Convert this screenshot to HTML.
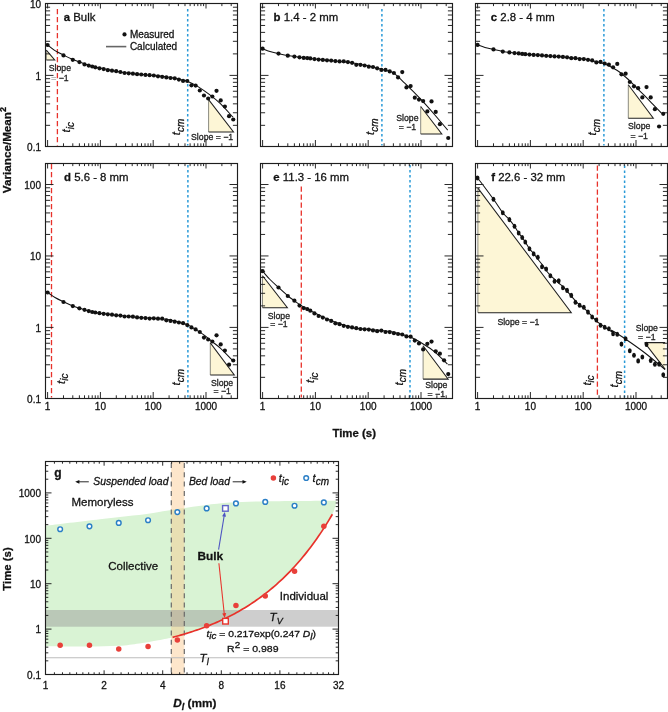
<!DOCTYPE html><html><head><meta charset="utf-8"><style>html,body{margin:0;padding:0;background:#fff;}svg{display:block;}text{font-family:"Liberation Sans",sans-serif;stroke:#111;stroke-width:0.28px;paint-order:stroke;}svg{will-change:transform;}</style></head><body>
<svg width="668" height="712" viewBox="0 0 668 712">
<rect width="668" height="712" fill="#fff"/>
<path d="M46.3 50.1L46.3 59.9L54.7 59.9Z" fill="#fdf6d6" stroke="none"/>
<path d="M46.3 50.1V59.9" stroke="#8a8a80" stroke-width="1" fill="none"/>
<path d="M46.3 50.1L54.7 59.9H46.3" stroke="#222" stroke-width="1.05" fill="none"/>
<path d="M208.6 99.6L208.6 132L233.5 132Z" fill="#fdf6d6" stroke="none"/>
<path d="M208.6 99.6V132" stroke="#8a8a80" stroke-width="1" fill="none"/>
<path d="M208.6 99.6L233.5 132H208.6" stroke="#222" stroke-width="1.05" fill="none"/>
<path d="M57.4 9V145.5" stroke="#e8322b" stroke-width="1.3" stroke-dasharray="5.2 2.8" fill="none"/>
<path d="M187.7 9V145.5" stroke="#2a9ad8" stroke-width="1.5" stroke-dasharray="2.5 2.5" fill="none"/>
<path d="M45.50 44.00C45.85 44.17 46.02 43.90 47.60 45.00C49.18 46.10 52.35 48.92 55.00 50.60C57.65 52.28 60.53 53.62 63.50 55.10C66.47 56.58 70.15 58.35 72.80 59.50C75.45 60.65 76.75 61.03 79.40 62.00C82.05 62.97 85.27 64.30 88.70 65.30C92.13 66.30 95.45 67.02 100.00 68.00C104.55 68.98 111.00 70.32 116.00 71.20C121.00 72.08 125.17 72.72 130.00 73.30C134.83 73.88 140.00 74.25 145.00 74.70C150.00 75.15 155.50 75.48 160.00 76.00C164.50 76.52 168.67 77.20 172.00 77.80C175.33 78.40 177.47 79.03 180.00 79.60C182.53 80.17 184.20 80.03 187.20 81.20C190.20 82.37 194.27 84.35 198.00 86.60C201.73 88.85 205.87 91.85 209.60 94.70C213.33 97.55 216.50 99.95 220.40 103.70C224.30 107.45 230.90 114.95 233.00 117.20" fill="none" stroke="#111" stroke-width="1.05" stroke-linejoin="round"/>
<g fill="#111"><circle cx="47.6" cy="45" r="2.1"/><circle cx="63.49" cy="55.4" r="2.1"/><circle cx="72.79" cy="59.8" r="2.1"/><circle cx="79.39" cy="62.1" r="2.1"/><circle cx="84.51" cy="64.4" r="2.1"/><circle cx="88.69" cy="65.6" r="2.1"/><circle cx="92.22" cy="66.5" r="2.1"/><circle cx="95.28" cy="67.3" r="2.1"/><circle cx="99.46" cy="68.3" r="2.1"/><circle cx="103.64" cy="69.1" r="2.1"/><circle cx="107.83" cy="70.2" r="2.1"/><circle cx="112.01" cy="70.7" r="2.1"/><circle cx="116.19" cy="71.2" r="2.1"/><circle cx="120.37" cy="72" r="2.1"/><circle cx="124.55" cy="73" r="2.1"/><circle cx="128.73" cy="73.3" r="2.1"/><circle cx="132.91" cy="73.7" r="2.1"/><circle cx="137.09" cy="74.2" r="2.1"/><circle cx="141.27" cy="74.5" r="2.1"/><circle cx="145.45" cy="74.9" r="2.1"/><circle cx="149.63" cy="75.2" r="2.1"/><circle cx="153.81" cy="75.5" r="2.1"/><circle cx="157.99" cy="76.3" r="2.1"/><circle cx="162.18" cy="76.8" r="2.1"/><circle cx="166.36" cy="77.4" r="2.1"/><circle cx="170.54" cy="78" r="2.1"/><circle cx="174.72" cy="78.3" r="2.1"/><circle cx="178.9" cy="79.6" r="2.1"/><circle cx="183.08" cy="80.9" r="2.1"/><circle cx="187.26" cy="81" r="2.1"/><circle cx="191.44" cy="85.3" r="2.1"/><circle cx="195.62" cy="85.6" r="2.1"/><circle cx="199.8" cy="90.5" r="2.1"/><circle cx="203.98" cy="95.5" r="2.1"/><circle cx="208.16" cy="98.5" r="2.1"/><circle cx="212.34" cy="96.5" r="2.1"/><circle cx="216.53" cy="90.8" r="2.1"/><circle cx="220.71" cy="100.4" r="2.1"/><circle cx="224.89" cy="106.5" r="2.1"/><circle cx="229.07" cy="116.2" r="2.1"/><circle cx="233.25" cy="119.5" r="2.1"/></g>
<rect x="45.5" y="3.5" width="192" height="143" fill="none" stroke="#1e1e1e" stroke-width="1.15"/>
<path d="M47.6 146.5v-6.5M47.6 3.5v5M63.49 146.5v-3.2M63.49 3.5v2.6M72.79 146.5v-3.2M72.79 3.5v2.6M79.39 146.5v-3.2M79.39 3.5v2.6M84.51 146.5v-3.2M84.51 3.5v2.6M88.69 146.5v-3.2M88.69 3.5v2.6M92.22 146.5v-3.2M92.22 3.5v2.6M95.28 146.5v-3.2M95.28 3.5v2.6M97.98 146.5v-3.2M97.98 3.5v2.6M100.4 146.5v-6.5M100.4 3.5v5M116.29 146.5v-3.2M116.29 3.5v2.6M125.59 146.5v-3.2M125.59 3.5v2.6M132.19 146.5v-3.2M132.19 3.5v2.6M137.31 146.5v-3.2M137.31 3.5v2.6M141.49 146.5v-3.2M141.49 3.5v2.6M145.02 146.5v-3.2M145.02 3.5v2.6M148.08 146.5v-3.2M148.08 3.5v2.6M150.78 146.5v-3.2M150.78 3.5v2.6M153.2 146.5v-6.5M153.2 3.5v5M169.09 146.5v-3.2M169.09 3.5v2.6M178.39 146.5v-3.2M178.39 3.5v2.6M184.99 146.5v-3.2M184.99 3.5v2.6M190.11 146.5v-3.2M190.11 3.5v2.6M194.29 146.5v-3.2M194.29 3.5v2.6M197.82 146.5v-3.2M197.82 3.5v2.6M200.88 146.5v-3.2M200.88 3.5v2.6M203.58 146.5v-3.2M203.58 3.5v2.6M206 146.5v-6.5M206 3.5v5M221.89 146.5v-3.2M221.89 3.5v2.6M231.19 146.5v-3.2M231.19 3.5v2.6M45.5 125.34h4.6M237.5 125.34h-4.6M45.5 112.76h4.6M237.5 112.76h-4.6M45.5 103.83h4.6M237.5 103.83h-4.6M45.5 96.91h4.6M237.5 96.91h-4.6M45.5 91.25h4.6M237.5 91.25h-4.6M45.5 86.47h4.6M237.5 86.47h-4.6M45.5 82.32h4.6M237.5 82.32h-4.6M45.5 78.67h4.6M237.5 78.67h-4.6M45.5 75.4h8M237.5 75.4h-8M45.5 53.89h4.6M237.5 53.89h-4.6M45.5 41.31h4.6M237.5 41.31h-4.6M45.5 32.38h4.6M237.5 32.38h-4.6M45.5 25.46h4.6M237.5 25.46h-4.6M45.5 19.8h4.6M237.5 19.8h-4.6M45.5 15.02h4.6M237.5 15.02h-4.6M45.5 10.87h4.6M237.5 10.87h-4.6M45.5 7.22h4.6M237.5 7.22h-4.6" stroke="#1e1e1e" stroke-width="0.95" fill="none"/>
<text x="63.7" y="20.9" font-size="11.4" fill="#111"><tspan font-weight="bold">a</tspan> Bulk</text>
<text x="59.9" y="71.4" font-size="8.7" fill="#222" text-anchor="middle">Slope</text>
<text x="59.9" y="80.6" font-size="8.7" fill="#222" text-anchor="middle"><tspan fill="#aaa" stroke="#aaa">=</tspan> −1</text>
<text x="212.1" y="140.1" font-size="8.7" fill="#222" text-anchor="middle">Slope = −1</text>
<text transform="translate(70.2 132.4) rotate(-90)" font-size="11.5" font-style="italic" fill="#111">t<tspan font-size="10" dy="3.4">ic</tspan></text>
<text transform="translate(180.2 135.2) rotate(-90)" font-size="11.5" font-style="italic" fill="#111">t<tspan font-size="10" dy="3.4">cm</tspan></text>
<path d="M420.7 106.5L420.7 134L441.8 134Z" fill="#fdf6d6" stroke="none"/>
<path d="M420.7 106.5V134" stroke="#8a8a80" stroke-width="1" fill="none"/>
<path d="M420.7 106.5L441.8 134H420.7" stroke="#222" stroke-width="1.05" fill="none"/>
<path d="M381.9 9V145.5" stroke="#2a9ad8" stroke-width="1.5" stroke-dasharray="2.5 2.5" fill="none"/>
<path d="M260.50 47.80C260.85 47.95 261.02 48.08 262.60 48.70C264.18 49.32 267.35 50.68 270.00 51.50C272.65 52.32 275.53 52.92 278.50 53.60C281.47 54.28 284.30 54.98 287.80 55.60C291.30 56.22 294.97 56.72 299.50 57.30C304.03 57.88 309.08 58.48 315.00 59.10C320.92 59.72 328.83 60.38 335.00 61.00C341.17 61.62 347.00 62.08 352.00 62.80C357.00 63.52 360.10 64.22 365.00 65.30C369.90 66.38 376.73 68.08 381.40 69.30C386.07 70.52 389.07 70.25 393.00 72.60C396.93 74.95 400.38 78.97 405.00 83.40C409.62 87.83 415.87 94.10 420.70 99.20C425.53 104.30 429.50 108.85 434.00 114.00C438.50 119.15 445.42 127.42 447.70 130.10" fill="none" stroke="#111" stroke-width="1.05" stroke-linejoin="round"/>
<g fill="#111"><circle cx="262.6" cy="48.7" r="2.1"/><circle cx="278.49" cy="53.6" r="2.1"/><circle cx="287.79" cy="55.7" r="2.1"/><circle cx="294.39" cy="56.6" r="2.1"/><circle cx="299.51" cy="57.3" r="2.1"/><circle cx="303.69" cy="57.9" r="2.1"/><circle cx="307.22" cy="58.1" r="2.1"/><circle cx="310.28" cy="58.4" r="2.1"/><circle cx="314.46" cy="59.1" r="2.1"/><circle cx="318.64" cy="59.6" r="2.1"/><circle cx="322.83" cy="59.9" r="2.1"/><circle cx="327.01" cy="60.3" r="2.1"/><circle cx="331.19" cy="60.6" r="2.1"/><circle cx="335.37" cy="61.1" r="2.1"/><circle cx="339.55" cy="61.4" r="2.1"/><circle cx="343.73" cy="61.3" r="2.1"/><circle cx="347.91" cy="62.1" r="2.1"/><circle cx="352.09" cy="62.85" r="2.1"/><circle cx="356.27" cy="64.8" r="2.1"/><circle cx="360.45" cy="64.8" r="2.1"/><circle cx="364.63" cy="65.5" r="2.1"/><circle cx="368.81" cy="66.7" r="2.1"/><circle cx="372.99" cy="67" r="2.1"/><circle cx="377.18" cy="68.3" r="2.1"/><circle cx="381.36" cy="69.9" r="2.1"/><circle cx="385.54" cy="69.9" r="2.1"/><circle cx="389.72" cy="71.4" r="2.1"/><circle cx="393.9" cy="73" r="2.1"/><circle cx="398.08" cy="77.4" r="2.1"/><circle cx="402.26" cy="72.1" r="2.1"/><circle cx="406.44" cy="87.4" r="2.1"/><circle cx="410.62" cy="86.1" r="2.1"/><circle cx="414.8" cy="97.7" r="2.1"/><circle cx="418.98" cy="99.6" r="2.1"/><circle cx="423.16" cy="101.1" r="2.1"/><circle cx="427.34" cy="111.4" r="2.1"/><circle cx="431.53" cy="101.4" r="2.1"/><circle cx="435.71" cy="111.9" r="2.1"/><circle cx="439.89" cy="124.2" r="2.1"/><circle cx="448.25" cy="138" r="2.1"/></g>
<rect x="260.5" y="3.5" width="192" height="143" fill="none" stroke="#1e1e1e" stroke-width="1.15"/>
<path d="M262.6 146.5v-6.5M262.6 3.5v5M278.49 146.5v-3.2M278.49 3.5v2.6M287.79 146.5v-3.2M287.79 3.5v2.6M294.39 146.5v-3.2M294.39 3.5v2.6M299.51 146.5v-3.2M299.51 3.5v2.6M303.69 146.5v-3.2M303.69 3.5v2.6M307.22 146.5v-3.2M307.22 3.5v2.6M310.28 146.5v-3.2M310.28 3.5v2.6M312.98 146.5v-3.2M312.98 3.5v2.6M315.4 146.5v-6.5M315.4 3.5v5M331.29 146.5v-3.2M331.29 3.5v2.6M340.59 146.5v-3.2M340.59 3.5v2.6M347.19 146.5v-3.2M347.19 3.5v2.6M352.31 146.5v-3.2M352.31 3.5v2.6M356.49 146.5v-3.2M356.49 3.5v2.6M360.02 146.5v-3.2M360.02 3.5v2.6M363.08 146.5v-3.2M363.08 3.5v2.6M365.78 146.5v-3.2M365.78 3.5v2.6M368.2 146.5v-6.5M368.2 3.5v5M384.09 146.5v-3.2M384.09 3.5v2.6M393.39 146.5v-3.2M393.39 3.5v2.6M399.99 146.5v-3.2M399.99 3.5v2.6M405.11 146.5v-3.2M405.11 3.5v2.6M409.29 146.5v-3.2M409.29 3.5v2.6M412.82 146.5v-3.2M412.82 3.5v2.6M415.88 146.5v-3.2M415.88 3.5v2.6M418.58 146.5v-3.2M418.58 3.5v2.6M421 146.5v-6.5M421 3.5v5M436.89 146.5v-3.2M436.89 3.5v2.6M446.19 146.5v-3.2M446.19 3.5v2.6M260.5 125.34h4.6M452.5 125.34h-4.6M260.5 112.76h4.6M452.5 112.76h-4.6M260.5 103.83h4.6M452.5 103.83h-4.6M260.5 96.91h4.6M452.5 96.91h-4.6M260.5 91.25h4.6M452.5 91.25h-4.6M260.5 86.47h4.6M452.5 86.47h-4.6M260.5 82.32h4.6M452.5 82.32h-4.6M260.5 78.67h4.6M452.5 78.67h-4.6M260.5 75.4h8M452.5 75.4h-8M260.5 53.89h4.6M452.5 53.89h-4.6M260.5 41.31h4.6M452.5 41.31h-4.6M260.5 32.38h4.6M452.5 32.38h-4.6M260.5 25.46h4.6M452.5 25.46h-4.6M260.5 19.8h4.6M452.5 19.8h-4.6M260.5 15.02h4.6M452.5 15.02h-4.6M260.5 10.87h4.6M452.5 10.87h-4.6M260.5 7.22h4.6M452.5 7.22h-4.6" stroke="#1e1e1e" stroke-width="0.95" fill="none"/>
<text x="273.6" y="20.9" font-size="11.4" fill="#111"><tspan font-weight="bold">b</tspan> 1.4 - 2 mm</text>
<text x="407.4" y="120.9" font-size="8.7" fill="#222" text-anchor="middle">Slope</text>
<text x="407.4" y="130" font-size="8.7" fill="#222" text-anchor="middle">= −1</text>
<text transform="translate(374.4 135) rotate(-90)" font-size="11.5" font-style="italic" fill="#111">t<tspan font-size="10" dy="3.4">cm</tspan></text>
<path d="M628.3 84.8L628.3 118.3L653.3 118.3Z" fill="#fdf6d6" stroke="none"/>
<path d="M628.3 84.8V118.3" stroke="#8a8a80" stroke-width="1" fill="none"/>
<path d="M628.3 84.8L653.3 118.3H628.3" stroke="#222" stroke-width="1.05" fill="none"/>
<path d="M603.9 9V145.5" stroke="#2a9ad8" stroke-width="1.5" stroke-dasharray="2.5 2.5" fill="none"/>
<path d="M475.50 44.00C475.85 44.15 476.02 44.32 477.60 44.90C479.18 45.48 482.35 46.75 485.00 47.50C487.65 48.25 490.53 48.73 493.50 49.40C496.47 50.07 499.30 50.90 502.80 51.50C506.30 52.10 509.97 52.48 514.50 53.00C519.03 53.52 524.08 54.08 530.00 54.60C535.92 55.12 543.83 55.65 550.00 56.10C556.17 56.55 561.50 56.82 567.00 57.30C572.50 57.78 578.17 58.28 583.00 59.00C587.83 59.72 592.45 60.82 596.00 61.60C599.55 62.38 600.82 62.27 604.30 63.70C607.78 65.13 612.98 67.65 616.90 70.20C620.82 72.75 624.17 75.72 627.80 79.00C631.43 82.28 635.07 86.27 638.70 89.90C642.33 93.53 645.77 96.88 649.60 100.80C653.43 104.72 659.68 111.30 661.70 113.40" fill="none" stroke="#111" stroke-width="1.05" stroke-linejoin="round"/>
<g fill="#111"><circle cx="477.6" cy="44.9" r="2.1"/><circle cx="493.49" cy="49.4" r="2.1"/><circle cx="502.79" cy="51.6" r="2.1"/><circle cx="509.39" cy="52.4" r="2.1"/><circle cx="514.51" cy="53.1" r="2.1"/><circle cx="518.69" cy="53.4" r="2.1"/><circle cx="522.22" cy="53.9" r="2.1"/><circle cx="525.28" cy="54.2" r="2.1"/><circle cx="529.46" cy="54.6" r="2.1"/><circle cx="533.64" cy="54.9" r="2.1"/><circle cx="537.83" cy="55.1" r="2.1"/><circle cx="542.01" cy="55.4" r="2.1"/><circle cx="546.19" cy="55.8" r="2.1"/><circle cx="550.37" cy="56.1" r="2.1"/><circle cx="554.55" cy="56.4" r="2.1"/><circle cx="558.73" cy="56.6" r="2.1"/><circle cx="562.91" cy="56.9" r="2.1"/><circle cx="567.09" cy="57.3" r="2.1"/><circle cx="571.27" cy="58.2" r="2.1"/><circle cx="575.45" cy="58.2" r="2.1"/><circle cx="579.63" cy="59.1" r="2.1"/><circle cx="583.81" cy="59.1" r="2.1"/><circle cx="587.99" cy="59.8" r="2.1"/><circle cx="592.18" cy="60.4" r="2.1"/><circle cx="596.36" cy="62.4" r="2.1"/><circle cx="600.54" cy="61.9" r="2.1"/><circle cx="604.72" cy="63.5" r="2.1"/><circle cx="608.9" cy="64.7" r="2.1"/><circle cx="613.08" cy="67.3" r="2.1"/><circle cx="617.26" cy="63.9" r="2.1"/><circle cx="621.44" cy="74.3" r="2.1"/><circle cx="625.62" cy="73.7" r="2.1"/><circle cx="629.8" cy="82" r="2.1"/><circle cx="633.98" cy="86.3" r="2.1"/><circle cx="638.16" cy="88.2" r="2.1"/><circle cx="642.34" cy="97.4" r="2.1"/><circle cx="646.53" cy="87.1" r="2.1"/><circle cx="650.71" cy="97.4" r="2.1"/><circle cx="654.89" cy="109.2" r="2.1"/><circle cx="659.07" cy="126.5" r="2.1"/><circle cx="663.25" cy="113.8" r="2.1"/></g>
<rect x="475.5" y="3.5" width="192" height="143" fill="none" stroke="#1e1e1e" stroke-width="1.15"/>
<path d="M477.6 146.5v-6.5M477.6 3.5v5M493.49 146.5v-3.2M493.49 3.5v2.6M502.79 146.5v-3.2M502.79 3.5v2.6M509.39 146.5v-3.2M509.39 3.5v2.6M514.51 146.5v-3.2M514.51 3.5v2.6M518.69 146.5v-3.2M518.69 3.5v2.6M522.22 146.5v-3.2M522.22 3.5v2.6M525.28 146.5v-3.2M525.28 3.5v2.6M527.98 146.5v-3.2M527.98 3.5v2.6M530.4 146.5v-6.5M530.4 3.5v5M546.29 146.5v-3.2M546.29 3.5v2.6M555.59 146.5v-3.2M555.59 3.5v2.6M562.19 146.5v-3.2M562.19 3.5v2.6M567.31 146.5v-3.2M567.31 3.5v2.6M571.49 146.5v-3.2M571.49 3.5v2.6M575.02 146.5v-3.2M575.02 3.5v2.6M578.08 146.5v-3.2M578.08 3.5v2.6M580.78 146.5v-3.2M580.78 3.5v2.6M583.2 146.5v-6.5M583.2 3.5v5M599.09 146.5v-3.2M599.09 3.5v2.6M608.39 146.5v-3.2M608.39 3.5v2.6M614.99 146.5v-3.2M614.99 3.5v2.6M620.11 146.5v-3.2M620.11 3.5v2.6M624.29 146.5v-3.2M624.29 3.5v2.6M627.82 146.5v-3.2M627.82 3.5v2.6M630.88 146.5v-3.2M630.88 3.5v2.6M633.58 146.5v-3.2M633.58 3.5v2.6M636 146.5v-6.5M636 3.5v5M651.89 146.5v-3.2M651.89 3.5v2.6M661.19 146.5v-3.2M661.19 3.5v2.6M475.5 125.34h4.6M667.5 125.34h-4.6M475.5 112.76h4.6M667.5 112.76h-4.6M475.5 103.83h4.6M667.5 103.83h-4.6M475.5 96.91h4.6M667.5 96.91h-4.6M475.5 91.25h4.6M667.5 91.25h-4.6M475.5 86.47h4.6M667.5 86.47h-4.6M475.5 82.32h4.6M667.5 82.32h-4.6M475.5 78.67h4.6M667.5 78.67h-4.6M475.5 75.4h8M667.5 75.4h-8M475.5 53.89h4.6M667.5 53.89h-4.6M475.5 41.31h4.6M667.5 41.31h-4.6M475.5 32.38h4.6M667.5 32.38h-4.6M475.5 25.46h4.6M667.5 25.46h-4.6M475.5 19.8h4.6M667.5 19.8h-4.6M475.5 15.02h4.6M667.5 15.02h-4.6M475.5 10.87h4.6M667.5 10.87h-4.6M475.5 7.22h4.6M667.5 7.22h-4.6" stroke="#1e1e1e" stroke-width="0.95" fill="none"/>
<text x="490.8" y="20.9" font-size="11.4" fill="#111"><tspan font-weight="bold">c</tspan> 2.8 - 4 mm</text>
<text x="639.2" y="128.8" font-size="8.7" fill="#222" text-anchor="middle">Slope</text>
<text x="639.2" y="138.8" font-size="8.7" fill="#222" text-anchor="middle">= −1</text>
<text transform="translate(596.4 135.4) rotate(-90)" font-size="11.5" font-style="italic" fill="#111">t<tspan font-size="10" dy="3.4">cm</tspan></text>
<path d="M210.3 342.9L210.3 375L234.3 375Z" fill="#fdf6d6" stroke="none"/>
<path d="M210.3 342.9V375" stroke="#8a8a80" stroke-width="1" fill="none"/>
<path d="M210.3 342.9L234.3 375H210.3" stroke="#222" stroke-width="1.05" fill="none"/>
<path d="M51.5 164V397.5" stroke="#e8322b" stroke-width="1.3" stroke-dasharray="5.2 2.8" fill="none"/>
<path d="M187.9 165V397.5" stroke="#2a9ad8" stroke-width="1.5" stroke-dasharray="2.5 2.5" fill="none"/>
<path d="M45.50 291.50C45.85 291.67 46.02 291.50 47.60 292.50C49.18 293.50 52.35 295.95 55.00 297.50C57.65 299.05 60.53 300.38 63.50 301.80C66.47 303.22 70.15 304.93 72.80 306.00C75.45 307.07 76.75 307.38 79.40 308.20C82.05 309.02 85.27 310.07 88.70 310.90C92.13 311.73 94.78 312.42 100.00 313.20C105.22 313.98 113.33 314.90 120.00 315.60C126.67 316.30 133.33 316.87 140.00 317.40C146.67 317.93 155.00 318.38 160.00 318.80C165.00 319.22 165.53 318.93 170.00 319.90C174.47 320.87 182.62 323.03 186.80 324.60C190.98 326.17 192.32 327.63 195.10 329.30C197.88 330.97 200.70 332.58 203.50 334.60C206.30 336.62 209.10 339.13 211.90 341.40C214.70 343.67 217.07 345.23 220.30 348.20C223.53 351.17 229.18 357.07 231.30 359.20C233.42 361.33 232.72 360.70 233.00 361.00" fill="none" stroke="#111" stroke-width="1.05" stroke-linejoin="round"/>
<g fill="#111"><circle cx="47.6" cy="292.5" r="2.1"/><circle cx="63.49" cy="302" r="2.1"/><circle cx="72.79" cy="306.1" r="2.1"/><circle cx="79.39" cy="308.3" r="2.1"/><circle cx="84.51" cy="309.8" r="2.1"/><circle cx="88.69" cy="311.1" r="2.1"/><circle cx="92.22" cy="312" r="2.1"/><circle cx="95.28" cy="312.5" r="2.1"/><circle cx="99.46" cy="313.2" r="2.1"/><circle cx="103.64" cy="313.8" r="2.1"/><circle cx="107.83" cy="314.3" r="2.1"/><circle cx="112.01" cy="314.7" r="2.1"/><circle cx="116.19" cy="315.3" r="2.1"/><circle cx="120.37" cy="315.6" r="2.1"/><circle cx="124.55" cy="316.5" r="2.1"/><circle cx="128.73" cy="316.5" r="2.1"/><circle cx="132.91" cy="316.7" r="2.1"/><circle cx="137.09" cy="317.4" r="2.1"/><circle cx="141.27" cy="317.8" r="2.1"/><circle cx="145.45" cy="318.1" r="2.1"/><circle cx="149.63" cy="318.6" r="2.1"/><circle cx="153.81" cy="318.3" r="2.1"/><circle cx="157.99" cy="318.7" r="2.1"/><circle cx="162.18" cy="318.7" r="2.1"/><circle cx="166.36" cy="320.3" r="2.1"/><circle cx="170.54" cy="320.9" r="2.1"/><circle cx="174.72" cy="321.7" r="2.1"/><circle cx="178.9" cy="322.5" r="2.1"/><circle cx="183.08" cy="323.2" r="2.1"/><circle cx="187.26" cy="325.1" r="2.1"/><circle cx="191.44" cy="327.4" r="2.1"/><circle cx="195.62" cy="329.4" r="2.1"/><circle cx="199.8" cy="332" r="2.1"/><circle cx="203.98" cy="337.6" r="2.1"/><circle cx="208.16" cy="339.5" r="2.1"/><circle cx="212.34" cy="341.5" r="2.1"/><circle cx="216.53" cy="335.3" r="2.1"/><circle cx="220.71" cy="344.4" r="2.1"/><circle cx="224.89" cy="350.6" r="2.1"/><circle cx="229.07" cy="364.7" r="2.1"/><circle cx="233.25" cy="360.5" r="2.1"/></g>
<rect x="45.5" y="163.5" width="192" height="235" fill="none" stroke="#1e1e1e" stroke-width="1.15"/>
<path d="M47.6 398.5v-6.5M47.6 163.5v5M63.49 398.5v-3.2M63.49 163.5v2.6M72.79 398.5v-3.2M72.79 163.5v2.6M79.39 398.5v-3.2M79.39 163.5v2.6M84.51 398.5v-3.2M84.51 163.5v2.6M88.69 398.5v-3.2M88.69 163.5v2.6M92.22 398.5v-3.2M92.22 163.5v2.6M95.28 398.5v-3.2M95.28 163.5v2.6M97.98 398.5v-3.2M97.98 163.5v2.6M100.4 398.5v-6.5M100.4 163.5v5M116.29 398.5v-3.2M116.29 163.5v2.6M125.59 398.5v-3.2M125.59 163.5v2.6M132.19 398.5v-3.2M132.19 163.5v2.6M137.31 398.5v-3.2M137.31 163.5v2.6M141.49 398.5v-3.2M141.49 163.5v2.6M145.02 398.5v-3.2M145.02 163.5v2.6M148.08 398.5v-3.2M148.08 163.5v2.6M150.78 398.5v-3.2M150.78 163.5v2.6M153.2 398.5v-6.5M153.2 163.5v5M169.09 398.5v-3.2M169.09 163.5v2.6M178.39 398.5v-3.2M178.39 163.5v2.6M184.99 398.5v-3.2M184.99 163.5v2.6M190.11 398.5v-3.2M190.11 163.5v2.6M194.29 398.5v-3.2M194.29 163.5v2.6M197.82 398.5v-3.2M197.82 163.5v2.6M200.88 398.5v-3.2M200.88 163.5v2.6M203.58 398.5v-3.2M203.58 163.5v2.6M206 398.5v-6.5M206 163.5v5M221.89 398.5v-3.2M221.89 163.5v2.6M231.19 398.5v-3.2M231.19 163.5v2.6M45.5 377.34h4.6M237.5 377.34h-4.6M45.5 364.76h4.6M237.5 364.76h-4.6M45.5 355.83h4.6M237.5 355.83h-4.6M45.5 348.91h4.6M237.5 348.91h-4.6M45.5 343.25h4.6M237.5 343.25h-4.6M45.5 338.47h4.6M237.5 338.47h-4.6M45.5 334.32h4.6M237.5 334.32h-4.6M45.5 330.67h4.6M237.5 330.67h-4.6M45.5 327.4h8M237.5 327.4h-8M45.5 305.89h4.6M237.5 305.89h-4.6M45.5 293.31h4.6M237.5 293.31h-4.6M45.5 284.38h4.6M237.5 284.38h-4.6M45.5 277.46h4.6M237.5 277.46h-4.6M45.5 271.8h4.6M237.5 271.8h-4.6M45.5 267.02h4.6M237.5 267.02h-4.6M45.5 262.87h4.6M237.5 262.87h-4.6M45.5 259.22h4.6M237.5 259.22h-4.6M45.5 255.95h8M237.5 255.95h-8M45.5 234.44h4.6M237.5 234.44h-4.6M45.5 221.86h4.6M237.5 221.86h-4.6M45.5 212.93h4.6M237.5 212.93h-4.6M45.5 206.01h4.6M237.5 206.01h-4.6M45.5 200.35h4.6M237.5 200.35h-4.6M45.5 195.57h4.6M237.5 195.57h-4.6M45.5 191.42h4.6M237.5 191.42h-4.6M45.5 187.77h4.6M237.5 187.77h-4.6M45.5 184.5h8M237.5 184.5h-8" stroke="#1e1e1e" stroke-width="0.95" fill="none"/>
<text x="64" y="180.9" font-size="11.4" fill="#111"><tspan font-weight="bold">d</tspan> 5.6 - 8 mm</text>
<text x="222.1" y="385.5" font-size="8.7" fill="#222" text-anchor="middle">Slope</text>
<text x="222.1" y="394.3" font-size="8.7" fill="#222" text-anchor="middle">= −1</text>
<text transform="translate(64.8 384) rotate(-90)" font-size="11.5" font-style="italic" fill="#111">t<tspan font-size="10" dy="3.4">ic</tspan></text>
<text transform="translate(180.2 385.4) rotate(-90)" font-size="11.5" font-style="italic" fill="#111">t<tspan font-size="10" dy="3.4">cm</tspan></text>
<path d="M262.5 275.7L262.5 307.7L287.4 307.7Z" fill="#fdf6d6" stroke="none"/>
<path d="M262.5 275.7V307.7" stroke="#8a8a80" stroke-width="1" fill="none"/>
<path d="M262.5 275.7L287.4 307.7H262.5" stroke="#222" stroke-width="1.05" fill="none"/>
<path d="M423.1 345.8L423.1 379.1L448.2 379.1Z" fill="#fdf6d6" stroke="none"/>
<path d="M423.1 345.8V379.1" stroke="#8a8a80" stroke-width="1" fill="none"/>
<path d="M423.1 345.8L448.2 379.1H423.1" stroke="#222" stroke-width="1.05" fill="none"/>
<path d="M301.3 186.5V397.5" stroke="#e8322b" stroke-width="1.3" stroke-dasharray="5.2 2.8" fill="none"/>
<path d="M410 165V397.5" stroke="#2a9ad8" stroke-width="1.5" stroke-dasharray="2.5 2.5" fill="none"/>
<path d="M260.50 269.80C260.85 270.03 261.02 269.58 262.60 271.20C264.18 272.82 267.33 276.78 270.00 279.50C272.67 282.22 275.60 284.75 278.60 287.50C281.60 290.25 285.38 293.80 288.00 296.00C290.62 298.20 292.13 299.13 294.30 300.70C296.47 302.27 298.38 303.77 301.00 305.40C303.62 307.03 306.83 308.82 310.00 310.50C313.17 312.18 315.83 313.58 320.00 315.50C324.17 317.42 329.67 320.02 335.00 322.00C340.33 323.98 346.17 326.13 352.00 327.40C357.83 328.67 363.67 328.90 370.00 329.60C376.33 330.30 383.42 330.40 390.00 331.60C396.58 332.80 403.83 334.65 409.50 336.80C415.17 338.95 419.80 342.00 424.00 344.50C428.20 347.00 430.80 348.55 434.70 351.80C438.60 355.05 445.28 361.97 447.40 364.00" fill="none" stroke="#111" stroke-width="1.05" stroke-linejoin="round"/>
<g fill="#111"><circle cx="262.6" cy="271.2" r="2.1"/><circle cx="278.49" cy="287.5" r="2.1"/><circle cx="287.79" cy="296" r="2.1"/><circle cx="294.39" cy="300.7" r="2.1"/><circle cx="299.51" cy="305.6" r="2.1"/><circle cx="303.69" cy="308.1" r="2.1"/><circle cx="307.22" cy="309.1" r="2.1"/><circle cx="310.28" cy="310.7" r="2.1"/><circle cx="314.46" cy="313.4" r="2.1"/><circle cx="318.64" cy="316" r="2.1"/><circle cx="322.83" cy="317.6" r="2.1"/><circle cx="327.01" cy="319.5" r="2.1"/><circle cx="331.19" cy="320.9" r="2.1"/><circle cx="335.37" cy="323.3" r="2.1"/><circle cx="339.55" cy="324.2" r="2.1"/><circle cx="343.73" cy="325.8" r="2.1"/><circle cx="347.91" cy="326.8" r="2.1"/><circle cx="352.09" cy="327.4" r="2.1"/><circle cx="356.27" cy="328.2" r="2.1"/><circle cx="360.45" cy="329" r="2.1"/><circle cx="364.63" cy="329.3" r="2.1"/><circle cx="368.81" cy="329.6" r="2.1"/><circle cx="372.99" cy="330.4" r="2.1"/><circle cx="377.18" cy="331.2" r="2.1"/><circle cx="381.36" cy="330.6" r="2.1"/><circle cx="385.54" cy="332" r="2.1"/><circle cx="389.72" cy="332.1" r="2.1"/><circle cx="393.9" cy="333.2" r="2.1"/><circle cx="398.08" cy="334" r="2.1"/><circle cx="402.26" cy="334.5" r="2.1"/><circle cx="406.44" cy="336.4" r="2.1"/><circle cx="410.62" cy="336.7" r="2.1"/><circle cx="414.8" cy="340.6" r="2.1"/><circle cx="418.98" cy="343.4" r="2.1"/><circle cx="423.16" cy="349.4" r="2.1"/><circle cx="427.34" cy="343.8" r="2.1"/><circle cx="431.53" cy="341.6" r="2.1"/><circle cx="435.71" cy="351.3" r="2.1"/><circle cx="439.89" cy="353.7" r="2.1"/><circle cx="444.07" cy="360.3" r="2.1"/><circle cx="448.25" cy="374.1" r="2.1"/></g>
<rect x="260.5" y="163.5" width="192" height="235" fill="none" stroke="#1e1e1e" stroke-width="1.15"/>
<path d="M262.6 398.5v-6.5M262.6 163.5v5M278.49 398.5v-3.2M278.49 163.5v2.6M287.79 398.5v-3.2M287.79 163.5v2.6M294.39 398.5v-3.2M294.39 163.5v2.6M299.51 398.5v-3.2M299.51 163.5v2.6M303.69 398.5v-3.2M303.69 163.5v2.6M307.22 398.5v-3.2M307.22 163.5v2.6M310.28 398.5v-3.2M310.28 163.5v2.6M312.98 398.5v-3.2M312.98 163.5v2.6M315.4 398.5v-6.5M315.4 163.5v5M331.29 398.5v-3.2M331.29 163.5v2.6M340.59 398.5v-3.2M340.59 163.5v2.6M347.19 398.5v-3.2M347.19 163.5v2.6M352.31 398.5v-3.2M352.31 163.5v2.6M356.49 398.5v-3.2M356.49 163.5v2.6M360.02 398.5v-3.2M360.02 163.5v2.6M363.08 398.5v-3.2M363.08 163.5v2.6M365.78 398.5v-3.2M365.78 163.5v2.6M368.2 398.5v-6.5M368.2 163.5v5M384.09 398.5v-3.2M384.09 163.5v2.6M393.39 398.5v-3.2M393.39 163.5v2.6M399.99 398.5v-3.2M399.99 163.5v2.6M405.11 398.5v-3.2M405.11 163.5v2.6M409.29 398.5v-3.2M409.29 163.5v2.6M412.82 398.5v-3.2M412.82 163.5v2.6M415.88 398.5v-3.2M415.88 163.5v2.6M418.58 398.5v-3.2M418.58 163.5v2.6M421 398.5v-6.5M421 163.5v5M436.89 398.5v-3.2M436.89 163.5v2.6M446.19 398.5v-3.2M446.19 163.5v2.6M260.5 377.34h4.6M452.5 377.34h-4.6M260.5 364.76h4.6M452.5 364.76h-4.6M260.5 355.83h4.6M452.5 355.83h-4.6M260.5 348.91h4.6M452.5 348.91h-4.6M260.5 343.25h4.6M452.5 343.25h-4.6M260.5 338.47h4.6M452.5 338.47h-4.6M260.5 334.32h4.6M452.5 334.32h-4.6M260.5 330.67h4.6M452.5 330.67h-4.6M260.5 327.4h8M452.5 327.4h-8M260.5 305.89h4.6M452.5 305.89h-4.6M260.5 293.31h4.6M452.5 293.31h-4.6M260.5 284.38h4.6M452.5 284.38h-4.6M260.5 277.46h4.6M452.5 277.46h-4.6M260.5 271.8h4.6M452.5 271.8h-4.6M260.5 267.02h4.6M452.5 267.02h-4.6M260.5 262.87h4.6M452.5 262.87h-4.6M260.5 259.22h4.6M452.5 259.22h-4.6M260.5 255.95h8M452.5 255.95h-8M260.5 234.44h4.6M452.5 234.44h-4.6M260.5 221.86h4.6M452.5 221.86h-4.6M260.5 212.93h4.6M452.5 212.93h-4.6M260.5 206.01h4.6M452.5 206.01h-4.6M260.5 200.35h4.6M452.5 200.35h-4.6M260.5 195.57h4.6M452.5 195.57h-4.6M260.5 191.42h4.6M452.5 191.42h-4.6M260.5 187.77h4.6M452.5 187.77h-4.6M260.5 184.5h8M452.5 184.5h-8" stroke="#1e1e1e" stroke-width="0.95" fill="none"/>
<text x="273.3" y="180.9" font-size="11.4" fill="#111"><tspan font-weight="bold">e</tspan> 11.3 - 16 mm</text>
<text x="278.9" y="318.5" font-size="8.7" fill="#222" text-anchor="middle">Slope</text>
<text x="278.9" y="327" font-size="8.7" fill="#222" text-anchor="middle">= −1</text>
<text x="436.3" y="387.9" font-size="8.7" fill="#222" text-anchor="middle">Slope</text>
<text x="436.3" y="396.8" font-size="8.7" fill="#222" text-anchor="middle">= −1</text>
<text transform="translate(314.4 383) rotate(-90)" font-size="11.5" font-style="italic" fill="#111">t<tspan font-size="10" dy="3.4">ic</tspan></text>
<text transform="translate(402.6 385.4) rotate(-90)" font-size="11.5" font-style="italic" fill="#111">t<tspan font-size="10" dy="3.4">cm</tspan></text>
<path d="M477.9 188.1L477.9 312.7L571.3 312.7Z" fill="#fdf6d6" stroke="none"/>
<path d="M477.9 188.1V312.7" stroke="#8a8a80" stroke-width="1" fill="none"/>
<path d="M477.9 188.1L571.3 312.7H477.9" stroke="#222" stroke-width="1.05" fill="none"/>
<path d="M644.6 342.6H665.2 V369.4 Z" fill="#fdf6d6" stroke="none"/>
<path d="M644.6 342.6L665.2 369.4 M644.6 342.6H665.2" stroke="#222" stroke-width="1.05" fill="none"/>
<path d="M597.4 165.5V397.5" stroke="#e8322b" stroke-width="1.3" stroke-dasharray="5.2 2.8" fill="none"/>
<path d="M624.6 165.5V397.5" stroke="#2a9ad8" stroke-width="1.5" stroke-dasharray="2.5 2.5" fill="none"/>
<path d="M475.60 176.60C475.93 176.83 474.62 174.22 477.60 178.00C480.58 181.78 489.30 193.50 493.49 199.30C497.69 205.10 500.14 209.42 502.79 212.80C505.44 216.18 507.44 217.35 509.39 219.60C511.34 221.85 512.96 224.07 514.51 226.30C516.06 228.53 517.40 231.13 518.69 233.00C519.97 234.87 521.12 236.00 522.22 237.50C523.32 239.00 524.08 240.12 525.28 242.00C526.49 243.88 528.07 246.91 529.46 248.80C530.86 250.69 532.25 251.58 533.64 253.33C535.04 255.08 536.43 257.47 537.83 259.30C539.22 261.13 540.61 262.47 542.01 264.33C543.40 266.19 544.79 268.63 546.19 270.47C547.58 272.30 548.97 273.87 550.37 275.33C551.76 276.79 553.15 277.91 554.55 279.23C555.94 280.56 557.34 282.09 558.73 283.27C560.12 284.44 561.52 284.98 562.91 286.30C564.30 287.62 565.70 289.58 567.09 291.20C568.48 292.82 569.88 294.40 571.27 296.03C572.67 297.67 574.06 299.52 575.45 301.00C576.85 302.48 578.24 303.73 579.63 304.93C581.03 306.13 582.42 307.01 583.81 308.20C585.21 309.39 586.60 310.74 587.99 312.10C589.39 313.46 590.78 314.92 592.18 316.37C593.57 317.81 594.96 319.47 596.36 320.77C597.75 322.07 599.14 323.11 600.54 324.17C601.93 325.22 603.32 326.14 604.72 327.10C606.11 328.06 607.50 329.04 608.90 329.90C610.29 330.76 612.56 332.17 613.08 332.27C613.60 332.37 609.95 329.38 612.00 330.50C614.05 331.62 619.90 335.25 625.40 339.00C630.90 342.75 638.40 347.92 645.00 353.00C651.60 358.08 661.67 366.75 665.00 369.50" fill="none" stroke="#111" stroke-width="1.05" stroke-linejoin="round"/>
<g fill="#111"><ellipse cx="477.6" cy="178" rx="1.9" ry="2.55"/><ellipse cx="493.49" cy="199.3" rx="1.9" ry="2.55"/><ellipse cx="502.79" cy="212.8" rx="1.9" ry="2.55"/><ellipse cx="509.39" cy="219.6" rx="1.9" ry="2.55"/><ellipse cx="514.51" cy="226.3" rx="1.9" ry="2.55"/><ellipse cx="518.69" cy="233" rx="1.9" ry="2.55"/><ellipse cx="522.22" cy="237.5" rx="1.9" ry="2.55"/><ellipse cx="525.28" cy="242" rx="1.9" ry="2.55"/><ellipse cx="529.46" cy="248.8" rx="1.9" ry="2.55"/><ellipse cx="533.64" cy="253.9" rx="1.9" ry="2.55"/><ellipse cx="537.83" cy="257.3" rx="1.9" ry="2.55"/><ellipse cx="542.01" cy="266.7" rx="1.9" ry="2.55"/><ellipse cx="546.19" cy="269" rx="1.9" ry="2.55"/><ellipse cx="550.37" cy="275.7" rx="1.9" ry="2.55"/><ellipse cx="554.55" cy="281.3" rx="1.9" ry="2.55"/><ellipse cx="558.73" cy="280.7" rx="1.9" ry="2.55"/><ellipse cx="562.91" cy="287.8" rx="1.9" ry="2.55"/><ellipse cx="567.09" cy="290.4" rx="1.9" ry="2.55"/><ellipse cx="571.27" cy="295.4" rx="1.9" ry="2.55"/><ellipse cx="575.45" cy="302.3" rx="1.9" ry="2.55"/><ellipse cx="579.63" cy="305.3" rx="1.9" ry="2.55"/><ellipse cx="583.81" cy="307.2" rx="1.9" ry="2.55"/><ellipse cx="587.99" cy="312.1" rx="1.9" ry="2.55"/><ellipse cx="592.18" cy="317" rx="1.9" ry="2.55"/><ellipse cx="596.36" cy="320" rx="1.9" ry="2.55"/><ellipse cx="600.54" cy="325.3" rx="1.9" ry="2.55"/><ellipse cx="604.72" cy="327.2" rx="1.9" ry="2.55"/><ellipse cx="608.9" cy="328.8" rx="1.9" ry="2.55"/><ellipse cx="613.08" cy="333.7" rx="1.9" ry="2.55"/><ellipse cx="617.26" cy="334.3" rx="1.9" ry="2.55"/><ellipse cx="621.44" cy="344.1" rx="1.9" ry="2.55"/><ellipse cx="625.62" cy="338.8" rx="1.9" ry="2.55"/><ellipse cx="629.8" cy="350.7" rx="1.9" ry="2.55"/><ellipse cx="633.98" cy="355.2" rx="1.9" ry="2.55"/><ellipse cx="638.16" cy="360.9" rx="1.9" ry="2.55"/><ellipse cx="642.34" cy="357" rx="1.9" ry="2.55"/><ellipse cx="646.53" cy="344.4" rx="1.9" ry="2.55"/><ellipse cx="650.71" cy="360.5" rx="1.9" ry="2.55"/><ellipse cx="654.89" cy="364.3" rx="1.9" ry="2.55"/><ellipse cx="659.07" cy="364.1" rx="1.9" ry="2.55"/><ellipse cx="663.25" cy="374.7" rx="1.9" ry="2.55"/></g>
<rect x="475.5" y="163.5" width="192" height="235" fill="none" stroke="#1e1e1e" stroke-width="1.15"/>
<path d="M477.6 398.5v-6.5M477.6 163.5v5M493.49 398.5v-3.2M493.49 163.5v2.6M502.79 398.5v-3.2M502.79 163.5v2.6M509.39 398.5v-3.2M509.39 163.5v2.6M514.51 398.5v-3.2M514.51 163.5v2.6M518.69 398.5v-3.2M518.69 163.5v2.6M522.22 398.5v-3.2M522.22 163.5v2.6M525.28 398.5v-3.2M525.28 163.5v2.6M527.98 398.5v-3.2M527.98 163.5v2.6M530.4 398.5v-6.5M530.4 163.5v5M546.29 398.5v-3.2M546.29 163.5v2.6M555.59 398.5v-3.2M555.59 163.5v2.6M562.19 398.5v-3.2M562.19 163.5v2.6M567.31 398.5v-3.2M567.31 163.5v2.6M571.49 398.5v-3.2M571.49 163.5v2.6M575.02 398.5v-3.2M575.02 163.5v2.6M578.08 398.5v-3.2M578.08 163.5v2.6M580.78 398.5v-3.2M580.78 163.5v2.6M583.2 398.5v-6.5M583.2 163.5v5M599.09 398.5v-3.2M599.09 163.5v2.6M608.39 398.5v-3.2M608.39 163.5v2.6M614.99 398.5v-3.2M614.99 163.5v2.6M620.11 398.5v-3.2M620.11 163.5v2.6M624.29 398.5v-3.2M624.29 163.5v2.6M627.82 398.5v-3.2M627.82 163.5v2.6M630.88 398.5v-3.2M630.88 163.5v2.6M633.58 398.5v-3.2M633.58 163.5v2.6M636 398.5v-6.5M636 163.5v5M651.89 398.5v-3.2M651.89 163.5v2.6M661.19 398.5v-3.2M661.19 163.5v2.6M475.5 377.34h4.6M667.5 377.34h-4.6M475.5 364.76h4.6M667.5 364.76h-4.6M475.5 355.83h4.6M667.5 355.83h-4.6M475.5 348.91h4.6M667.5 348.91h-4.6M475.5 343.25h4.6M667.5 343.25h-4.6M475.5 338.47h4.6M667.5 338.47h-4.6M475.5 334.32h4.6M667.5 334.32h-4.6M475.5 330.67h4.6M667.5 330.67h-4.6M475.5 327.4h8M667.5 327.4h-8M475.5 305.89h4.6M667.5 305.89h-4.6M475.5 293.31h4.6M667.5 293.31h-4.6M475.5 284.38h4.6M667.5 284.38h-4.6M475.5 277.46h4.6M667.5 277.46h-4.6M475.5 271.8h4.6M667.5 271.8h-4.6M475.5 267.02h4.6M667.5 267.02h-4.6M475.5 262.87h4.6M667.5 262.87h-4.6M475.5 259.22h4.6M667.5 259.22h-4.6M475.5 255.95h8M667.5 255.95h-8M475.5 234.44h4.6M667.5 234.44h-4.6M475.5 221.86h4.6M667.5 221.86h-4.6M475.5 212.93h4.6M667.5 212.93h-4.6M475.5 206.01h4.6M667.5 206.01h-4.6M475.5 200.35h4.6M667.5 200.35h-4.6M475.5 195.57h4.6M667.5 195.57h-4.6M475.5 191.42h4.6M667.5 191.42h-4.6M475.5 187.77h4.6M667.5 187.77h-4.6M475.5 184.5h8M667.5 184.5h-8" stroke="#1e1e1e" stroke-width="0.95" fill="none"/>
<text x="491.2" y="180.9" font-size="11.4" fill="#111"><tspan font-weight="bold">f</tspan> 22.6 - 32 mm</text>
<text x="518.4" y="325.1" font-size="8.7" fill="#222" text-anchor="middle">Slope = −1</text>
<text x="646.8" y="330.5" font-size="8.7" fill="#222" text-anchor="middle">Slope</text>
<text x="646.8" y="339.6" font-size="8.7" fill="#222" text-anchor="middle">= −1</text>
<text transform="translate(591 385.6) rotate(-90)" font-size="11.5" font-style="italic" fill="#111">t<tspan font-size="10" dy="3.4">ic</tspan></text>
<text transform="translate(618.4 387.4) rotate(-90)" font-size="11.5" font-style="italic" fill="#111">t<tspan font-size="10" dy="3.4">cm</tspan></text>
<circle cx="124.5" cy="34.4" r="2.1" fill="#111"/>
<text x="129.9" y="38.1" font-size="10" fill="#111">Measured</text>
<path d="M106 46.6H126.3" stroke="#666" stroke-width="1.6"/>
<text x="129.9" y="50.3" font-size="10" fill="#111">Calculated</text>
<text x="41" y="8.15" font-size="10" fill="#111" text-anchor="end">10</text>
<text x="41" y="79.6" font-size="10" fill="#111" text-anchor="end">1</text>
<text x="41" y="150.7" font-size="10" fill="#111" text-anchor="end">0.1</text>
<text x="41" y="188.7" font-size="10" fill="#111" text-anchor="end">100</text>
<text x="41" y="260.15" font-size="10" fill="#111" text-anchor="end">10</text>
<text x="41" y="331.6" font-size="10" fill="#111" text-anchor="end">1</text>
<text x="41" y="402.7" font-size="10" fill="#111" text-anchor="end">0.1</text>
<text x="47.6" y="410" font-size="10" fill="#111" text-anchor="middle">1</text>
<text x="100.4" y="410" font-size="10" fill="#111" text-anchor="middle">10</text>
<text x="153.2" y="410" font-size="10" fill="#111" text-anchor="middle">100</text>
<text x="206" y="410" font-size="10" fill="#111" text-anchor="middle">1000</text>
<text x="262.6" y="410" font-size="10" fill="#111" text-anchor="middle">1</text>
<text x="315.4" y="410" font-size="10" fill="#111" text-anchor="middle">10</text>
<text x="368.2" y="410" font-size="10" fill="#111" text-anchor="middle">100</text>
<text x="421" y="410" font-size="10" fill="#111" text-anchor="middle">1000</text>
<text x="477.6" y="410" font-size="10" fill="#111" text-anchor="middle">1</text>
<text x="530.4" y="410" font-size="10" fill="#111" text-anchor="middle">10</text>
<text x="583.2" y="410" font-size="10" fill="#111" text-anchor="middle">100</text>
<text x="636" y="410" font-size="10" fill="#111" text-anchor="middle">1000</text>
<text transform="translate(11 193.2) rotate(-90)" font-size="11.7" font-weight="bold" fill="#111">Variance/Mean<tspan font-size="9" dy="-4.6">2</tspan></text>
<text x="354.2" y="437.4" font-size="11.4" font-weight="bold" fill="#111" text-anchor="middle">Time (s)</text>
<path d="M45.50 525.80C54.58 524.72 82.58 521.37 100.00 519.30C117.42 517.23 136.67 515.18 150.00 513.40C163.33 511.62 170.83 509.97 180.00 508.60C189.17 507.23 196.67 506.20 205.00 505.20C213.33 504.20 220.83 503.23 230.00 502.60C239.17 501.97 248.33 501.67 260.00 501.40C271.67 501.13 287.28 501.10 300.00 501.00C312.72 500.90 330.25 500.83 336.30 500.80L335.60 505.50L334.00 510.50L332.40 514.40L332.40 514.23L330.60 517.28L328.60 520.60L326.60 523.84L324.60 527.01L322.60 530.10L320.60 533.12L318.60 536.07L316.60 538.95L314.60 541.76L312.60 544.51L310.60 547.19L308.60 549.81L306.60 552.36L304.60 554.86L302.60 557.30L300.60 559.69L298.60 562.01L296.60 564.29L294.60 566.51L292.60 568.67L290.60 570.79L288.60 572.86L286.60 574.88L284.60 576.85L282.60 578.77L280.60 580.66L278.60 582.49L276.60 584.29L274.60 586.04L272.60 587.75L270.60 589.42L268.60 591.05L266.60 592.65L264.60 594.20L262.60 595.72L260.60 597.21L258.60 598.66L256.60 600.07L254.60 601.46L252.60 602.81L250.60 604.13L248.60 605.41L246.60 606.67L244.60 607.90L242.60 609.10L240.60 610.27L238.60 611.42L236.60 612.53L234.60 613.63L232.60 614.69L230.60 615.73L228.60 616.75L226.60 617.74L224.60 618.71L222.60 619.66L220.60 620.59L218.60 621.49L216.60 622.37L214.60 623.23L212.60 624.07L210.60 624.90L208.60 625.70L206.60 626.48L204.60 627.25L202.60 628.00L200.60 628.73L198.60 629.44L196.60 630.13L194.60 630.81L192.60 631.48L190.60 632.13L188.60 632.76L186.60 633.38L184.60 633.98L182.60 634.57L180.60 635.15L178.60 635.71L176.60 636.26L174.60 636.80L172.60 637.32L172.60 637.40C170.20 637.87 163.75 639.20 158.20 640.20C152.65 641.20 145.93 642.47 139.30 643.40C132.67 644.33 127.13 645.28 118.40 645.80C109.67 646.32 99.05 646.43 86.90 646.50C74.75 646.57 52.40 646.25 45.50 646.20Z" fill="#d9f3d4"/>
<rect x="171.1" y="461.5" width="13.3" height="213" fill="rgb(250,200,140)" fill-opacity="0.45"/>
<rect x="45.5" y="610" width="293" height="16.7" fill="rgb(150,150,150)" fill-opacity="0.47"/>
<path d="M45.5 657.8H338.5" stroke="#bdbdbd" stroke-width="1.1"/>
<path d="M171.3 462V674.5 M184.3 462V674.5" stroke="#6a6a6a" stroke-width="1.2" stroke-dasharray="5 4.3" stroke-dashoffset="-1" fill="none"/>
<polyline points="172.60,637.32 174.60,636.80 176.60,636.26 178.60,635.71 180.60,635.15 182.60,634.57 184.60,633.98 186.60,633.38 188.60,632.76 190.60,632.13 192.60,631.48 194.60,630.81 196.60,630.13 198.60,629.44 200.60,628.73 202.60,628.00 204.60,627.25 206.60,626.48 208.60,625.70 210.60,624.90 212.60,624.07 214.60,623.23 216.60,622.37 218.60,621.49 220.60,620.59 222.60,619.66 224.60,618.71 226.60,617.74 228.60,616.75 230.60,615.73 232.60,614.69 234.60,613.63 236.60,612.53 238.60,611.42 240.60,610.27 242.60,609.10 244.60,607.90 246.60,606.67 248.60,605.41 250.60,604.13 252.60,602.81 254.60,601.46 256.60,600.07 258.60,598.66 260.60,597.21 262.60,595.72 264.60,594.20 266.60,592.65 268.60,591.05 270.60,589.42 272.60,587.75 274.60,586.04 276.60,584.29 278.60,582.49 280.60,580.66 282.60,578.77 284.60,576.85 286.60,574.88 288.60,572.86 290.60,570.79 292.60,568.67 294.60,566.51 296.60,564.29 298.60,562.01 300.60,559.69 302.60,557.30 304.60,554.86 306.60,552.36 308.60,549.81 310.60,547.19 312.60,544.51 314.60,541.76 316.60,538.95 318.60,536.07 320.60,533.12 322.60,530.10 324.60,527.01 326.60,523.84 328.60,520.60 330.60,517.28 332.40,514.23" fill="none" stroke="#e8322b" stroke-width="1.7" stroke-linejoin="round"/>
<g fill="#fff" stroke="#2b7fc6" stroke-width="1.45"><circle cx="60.15" cy="529.2" r="2.35"/><circle cx="89.45" cy="526.3" r="2.35"/><circle cx="118.75" cy="522.9" r="2.35"/><circle cx="148.05" cy="520.2" r="2.35"/><circle cx="177.35" cy="512.1" r="2.35"/><circle cx="206.65" cy="508.4" r="2.35"/><circle cx="235.95" cy="503.4" r="2.35"/><circle cx="265.25" cy="501.9" r="2.35"/><circle cx="294.55" cy="505.7" r="2.35"/><circle cx="323.85" cy="502.4" r="2.35"/></g>
<g fill="#e8403a"><circle cx="60.15" cy="645.3" r="2.75"/><circle cx="89.45" cy="645.3" r="2.75"/><circle cx="118.75" cy="649.1" r="2.75"/><circle cx="148.05" cy="646.6" r="2.75"/><circle cx="177.35" cy="640.1" r="2.75"/><circle cx="206.65" cy="625.7" r="2.75"/><circle cx="235.95" cy="605.6" r="2.75"/><circle cx="265.25" cy="595.9" r="2.75"/><circle cx="294.55" cy="571.2" r="2.75"/><circle cx="323.85" cy="526.3" r="2.75"/></g>
<path d="M218.60 549.60L224.21 515.55" stroke="#4b52c2" stroke-width="1.05" fill="none"/>
<path d="M224.80 512.00L226.02 516.86L222.08 516.21Z" fill="#4b52c2"/>
<path d="M218.90 563.30L224.32 614.32" stroke="#e8322b" stroke-width="1.05" fill="none"/>
<path d="M224.70 617.90L222.23 613.54L226.20 613.11Z" fill="#e8322b"/>
<rect x="222.6" y="505.6" width="5.6" height="5.6" fill="#fff" stroke="#6065c8" stroke-width="1.4"/>
<rect x="222.7" y="618.4" width="5.6" height="5.6" fill="#fff" stroke="#e8322b" stroke-width="1.4"/>
<rect x="45.5" y="461.5" width="293" height="213" fill="none" stroke="#1e1e1e" stroke-width="1.15"/>
<path d="M54.41 674.5v-2.2M54.41 461.5v2.2M62.47 674.5v-2.2M62.47 461.5v2.2M69.82 674.5v-2.2M69.82 461.5v2.2M76.59 674.5v-2.2M76.59 461.5v2.2M82.85 674.5v-2.2M82.85 461.5v2.2M88.69 674.5v-2.2M88.69 461.5v2.2M94.14 674.5v-2.2M94.14 461.5v2.2M99.27 674.5v-2.2M99.27 461.5v2.2M104.1 674.5v-4.2M104.1 461.5v4.2M113.01 674.5v-2.2M113.01 461.5v2.2M121.07 674.5v-2.2M121.07 461.5v2.2M128.42 674.5v-2.2M128.42 461.5v2.2M135.19 674.5v-2.2M135.19 461.5v2.2M141.45 674.5v-2.2M141.45 461.5v2.2M147.29 674.5v-2.2M147.29 461.5v2.2M152.74 674.5v-2.2M152.74 461.5v2.2M157.87 674.5v-2.2M157.87 461.5v2.2M162.7 674.5v-4.2M162.7 461.5v4.2M171.61 674.5v-2.2M171.61 461.5v2.2M179.67 674.5v-2.2M179.67 461.5v2.2M187.02 674.5v-2.2M187.02 461.5v2.2M193.79 674.5v-2.2M193.79 461.5v2.2M200.05 674.5v-2.2M200.05 461.5v2.2M205.89 674.5v-2.2M205.89 461.5v2.2M211.34 674.5v-2.2M211.34 461.5v2.2M216.47 674.5v-2.2M216.47 461.5v2.2M221.3 674.5v-4.2M221.3 461.5v4.2M230.21 674.5v-2.2M230.21 461.5v2.2M238.27 674.5v-2.2M238.27 461.5v2.2M245.62 674.5v-2.2M245.62 461.5v2.2M252.39 674.5v-2.2M252.39 461.5v2.2M258.65 674.5v-2.2M258.65 461.5v2.2M264.49 674.5v-2.2M264.49 461.5v2.2M269.94 674.5v-2.2M269.94 461.5v2.2M275.07 674.5v-2.2M275.07 461.5v2.2M279.9 674.5v-4.2M279.9 461.5v4.2M288.81 674.5v-2.2M288.81 461.5v2.2M296.87 674.5v-2.2M296.87 461.5v2.2M304.22 674.5v-2.2M304.22 461.5v2.2M310.99 674.5v-2.2M310.99 461.5v2.2M317.25 674.5v-2.2M317.25 461.5v2.2M323.09 674.5v-2.2M323.09 461.5v2.2M328.54 674.5v-2.2M328.54 461.5v2.2M333.67 674.5v-2.2M333.67 461.5v2.2M45.5 660.83h2.8M338.5 660.83h-2.8M45.5 652.84h2.8M338.5 652.84h-2.8M45.5 647.17h2.8M338.5 647.17h-2.8M45.5 642.77h2.8M338.5 642.77h-2.8M45.5 639.17h2.8M338.5 639.17h-2.8M45.5 636.13h2.8M338.5 636.13h-2.8M45.5 633.5h2.8M338.5 633.5h-2.8M45.5 631.18h2.8M338.5 631.18h-2.8M45.5 629.1h6M338.5 629.1h-6M45.5 615.43h2.8M338.5 615.43h-2.8M45.5 607.44h2.8M338.5 607.44h-2.8M45.5 601.77h2.8M338.5 601.77h-2.8M45.5 597.37h2.8M338.5 597.37h-2.8M45.5 593.77h2.8M338.5 593.77h-2.8M45.5 590.73h2.8M338.5 590.73h-2.8M45.5 588.1h2.8M338.5 588.1h-2.8M45.5 585.78h2.8M338.5 585.78h-2.8M45.5 583.7h6M338.5 583.7h-6M45.5 570.03h2.8M338.5 570.03h-2.8M45.5 562.04h2.8M338.5 562.04h-2.8M45.5 556.37h2.8M338.5 556.37h-2.8M45.5 551.97h2.8M338.5 551.97h-2.8M45.5 548.37h2.8M338.5 548.37h-2.8M45.5 545.33h2.8M338.5 545.33h-2.8M45.5 542.7h2.8M338.5 542.7h-2.8M45.5 540.38h2.8M338.5 540.38h-2.8M45.5 538.3h6M338.5 538.3h-6M45.5 524.63h2.8M338.5 524.63h-2.8M45.5 516.64h2.8M338.5 516.64h-2.8M45.5 510.97h2.8M338.5 510.97h-2.8M45.5 506.57h2.8M338.5 506.57h-2.8M45.5 502.97h2.8M338.5 502.97h-2.8M45.5 499.93h2.8M338.5 499.93h-2.8M45.5 497.3h2.8M338.5 497.3h-2.8M45.5 494.98h2.8M338.5 494.98h-2.8M45.5 492.9h6M338.5 492.9h-6M45.5 479.23h2.8M338.5 479.23h-2.8M45.5 471.24h2.8M338.5 471.24h-2.8M45.5 465.57h2.8M338.5 465.57h-2.8" stroke="#1e1e1e" stroke-width="0.95" fill="none"/>
<text x="54.3" y="477.4" font-size="12" font-weight="bold" fill="#111">g</text>
<path d="M77 481.8H88.8" stroke="#111" stroke-width="0.9"/><path d="M75.2 481.8L79.4 479.9L79.4 483.7Z" fill="#111"/>
<text x="93.3" y="485.4" font-size="10.4" font-style="italic" fill="#111">Suspended load</text>
<text x="188.9" y="485.4" font-size="10.4" font-style="italic" fill="#111">Bed load</text>
<path d="M232.7 481.8H244.8" stroke="#111" stroke-width="0.9"/><path d="M246.7 481.8L242.5 479.9L242.5 483.7Z" fill="#111"/>
<circle cx="273.4" cy="478" r="2.75" fill="#e8403a"/>
<circle cx="306.2" cy="478" r="2.35" fill="#fff" stroke="#2b7fc6" stroke-width="1.45"/>
<text x="278.8" y="482" font-size="11" font-style="italic" fill="#111">t<tspan font-size="10" dy="3">ic</tspan></text>
<text x="312.6" y="482" font-size="11" font-style="italic" fill="#111">t<tspan font-size="10" dy="3">cm</tspan></text>
<text x="71.5" y="506.3" font-size="11.5" fill="#111">Memoryless</text>
<text x="108.3" y="570.4" font-size="11.5" fill="#111">Collective</text>
<text x="279.8" y="600.3" font-size="11.5" fill="#111">Individual</text>
<text x="197.6" y="560.2" font-size="11.8" font-weight="bold" fill="#111">Bulk</text>
<text x="269.6" y="620.9" font-size="11.5" font-style="italic" fill="#111">T<tspan font-size="9" dy="3">V</tspan></text>
<text x="206.4" y="636.8" font-size="9.4" fill="#111" textLength="109.5" lengthAdjust="spacingAndGlyphs"><tspan font-style="italic">t<tspan font-size="9" dy="2.6">ic</tspan></tspan><tspan dy="-2.6"> = 0.217exp(0.247 </tspan><tspan font-style="italic">D<tspan font-size="9" dy="2.8">l</tspan></tspan><tspan dy="-2.8">)</tspan></text>
<text x="227.1" y="651.9" font-size="9.6" fill="#111" textLength="51.5" lengthAdjust="spacingAndGlyphs">R<tspan font-size="9" dy="-4.2">2</tspan><tspan dy="4.2"> = 0.989</tspan></text>
<text x="199.6" y="662" font-size="11.5" font-style="italic" fill="#111">T<tspan font-size="9" dy="3">l</tspan></text>
<text x="41" y="497.2" font-size="10" fill="#111" text-anchor="end">1000</text>
<text x="41" y="542.6" font-size="10" fill="#111" text-anchor="end">100</text>
<text x="41" y="588" font-size="10" fill="#111" text-anchor="end">10</text>
<text x="41" y="633.4" font-size="10" fill="#111" text-anchor="end">1</text>
<text x="41" y="678.8" font-size="10" fill="#111" text-anchor="end">0.1</text>
<text x="45.5" y="688.5" font-size="10" fill="#111" text-anchor="middle">1</text>
<text x="104.1" y="688.5" font-size="10" fill="#111" text-anchor="middle">2</text>
<text x="162.7" y="688.5" font-size="10" fill="#111" text-anchor="middle">4</text>
<text x="221.3" y="688.5" font-size="10" fill="#111" text-anchor="middle">8</text>
<text x="279.9" y="688.5" font-size="10" fill="#111" text-anchor="middle">16</text>
<text x="338.5" y="688.5" font-size="10" fill="#111" text-anchor="middle">32</text>
<text transform="translate(10.8 569) rotate(-90)" font-size="11.4" font-weight="bold" fill="#111" text-anchor="middle">Time (s)</text>
<text x="173.2" y="707" font-size="11.8" font-weight="bold" fill="#111"><tspan font-style="italic">D<tspan font-size="9" dy="2.8">l</tspan></tspan><tspan dy="-2.8"> (mm)</tspan></text>
</svg></body></html>
